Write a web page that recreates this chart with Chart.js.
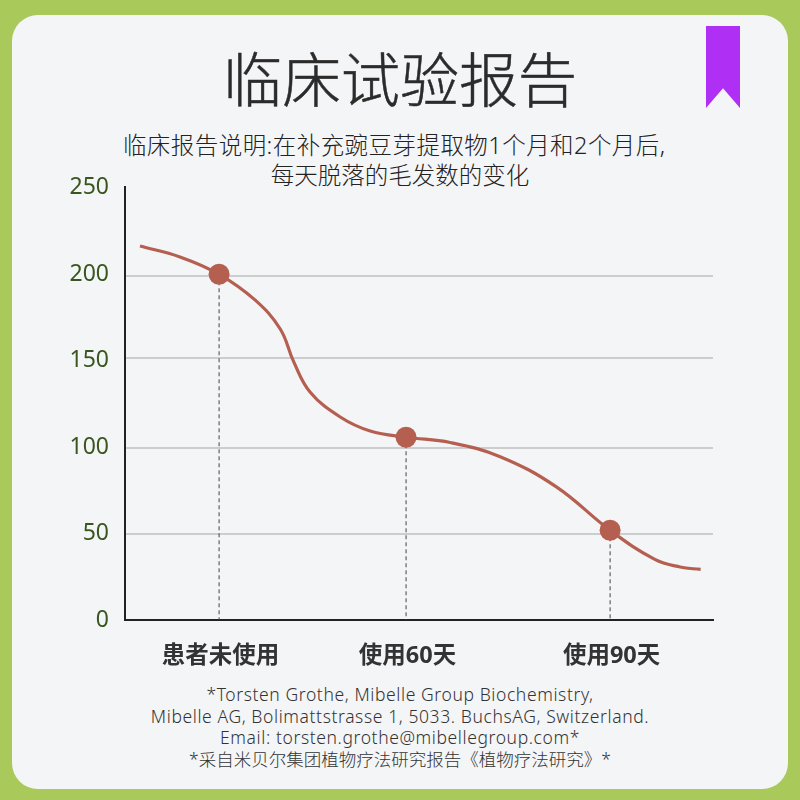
<!DOCTYPE html>
<html lang="zh-CN">
<head>
<meta charset="utf-8">
<title>临床试验报告</title>
<script src="https://cdn.jsdelivr.net/npm/chart.js@4/dist/chart.umd.min.js"></script>
<style>
  html, body { margin: 0; padding: 0; }
  body { width: 800px; height: 800px; background: #a9c95b; position: relative; overflow: hidden;
         font-family: "Noto Sans", "Noto Sans CJK SC", sans-serif; }
  #panel { position: absolute; left: 12px; top: 15px; width: 776px; height: 774px; background: #f4f5f7; border-radius: 26px; }
  #ribbon { position: absolute; left: 706px; top: 26px; width: 34px; height: 82px; background: #b02ff5;
            clip-path: polygon(0 0, 100% 0, 100% 100%, 50% 76%, 0 100%); }
  .text { position: absolute; left: 0; width: 800px; text-align: center; white-space: nowrap; }
  #title { top: 35px; font-size: 59px; line-height: 88px; color: #2b2b2b; font-weight: 300; -webkit-text-stroke: 0.5px #2b2b2b; }
  #subtitle { top: 130px; font-size: 23.5px; line-height: 30px; color: #222; font-weight: 300; }
  #subtitle .wide { letter-spacing: 0.45px; padding-right: 5px; }
  #notes { top: 684px; font-size: 17.5px; line-height: 21.7px; color: #333; font-weight: 300; letter-spacing: 0.6px; }
  #notes .cjk { letter-spacing: 0; }
  #wrap { position: absolute; left: 0; top: 0; width: 800px; height: 800px; }
</style>
</head>
<body>
<div id="panel"></div>
<div id="ribbon"></div>
<div class="text" id="title">临床试验报告</div>
<div class="text" id="subtitle"><span class="wide">临床报告说明:在补充豌豆芽提取物1个月和2个月后,&nbsp;</span><br>每天脱落的毛发数的变化</div>
<div class="text" id="notes">*Torsten Grothe, Mibelle Group Biochemistry,<br>Mibelle AG, Bolimattstrasse 1, 5033. BuchsAG, Switzerland.<br>Email: torsten.grothe@mibellegroup.com*<br><span class="cjk">*采自米贝尔集团植物疗法研究报告《植物疗法研究》*</span></div>
<div id="wrap"><canvas id="chart" width="800" height="800"></canvas></div>

<script>
// x is a position along the axis, 0 to 100
const categories = ['患者未使用', '使用60天', '使用90天']
const categoryX = [16, 47.8, 82.5]
const markerValues = [199.6, 105.5, 51.8]

const curveX = [2.55, 9.35, 16, 22.1, 26.4, 28.7, 31.5, 36.6, 41.7, 47.8, 55.3, 63.8, 73.3, 82.5, 90.1, 94.4, 97.9]
const curveY = [215.9, 209.6, 199.6, 184.8, 168, 149, 131.5, 117.2, 109.1, 105.5, 102.5, 94.3, 77, 51.8, 35, 30.6, 29.2]

const yTicks = [0, 50, 100, 150, 200, 250]
const gridLines = [49.8, 99.5, 151.4, 198.6]

const lineColor = '#b55f50'

const drops = categoryX.map((x, i) => ({
  type: 'line',
  data: [{ x, y: markerValues[i] }, { x, y: 0 }],
  borderColor: '#444',
  borderWidth: 1,
  borderDash: [4, 3],
  pointRadius: 0,
  order: 3,
}))

new Chart(document.getElementById('chart'), {
  type: 'line',
  data: {
    datasets: [
      {
        data: categoryX.map((x, i) => ({ x, y: markerValues[i] })),
        showLine: false,
        pointRadius: 10.5,
        pointBackgroundColor: lineColor,
        pointBorderWidth: 0,
        order: 1,
      },
      {
        data: curveX.map((x, i) => ({ x, y: curveY[i] })),
        borderColor: lineColor,
        borderWidth: 3.2,
        tension: 0.4,
        pointRadius: 0,
        order: 2,
      },
      ...drops,
    ],
  },
  options: {
    responsive: false,
    animation: false,
    events: [],
    layout: { padding: { top: 187, right: 87, bottom: 0, left: 0 } },
    plugins: { legend: { display: false }, tooltip: { enabled: false } },
    scales: {
      x: {
        type: 'linear',
        min: 0,
        max: 100,
        afterBuildTicks: (axis) => { axis.ticks = categoryX.map((value) => ({ value })) },
        afterFit: (axis) => { axis.height = 180 },
        grid: { display: false },
        border: { color: '#222', width: 2 },
        ticks: {
          autoSkip: false,
          maxRotation: 0,
          padding: 14,
          labelOffset: 1.5,
          color: '#333',
          font: { family: '"Noto Sans", "Noto Sans CJK SC"', size: 23.5, weight: 'bold' },
          callback: (value) => categories[categoryX.indexOf(value)],
        },
      },
      y: {
        min: 0,
        max: 250,
        afterBuildTicks: (axis) => { axis.ticks = yTicks.map((value) => ({ value })) },
        afterFit: (axis) => { axis.width = 125 },
        grid: { display: false },
        border: { color: '#222', width: 2 },
        ticks: {
          padding: 8,
          labelOffset: 0.5,
          color: '#39561f',
          font: { family: '"Noto Sans"', size: 23 },
        },
      },
      // carries only the horizontal rules
      rules: {
        position: 'left',
        min: 0,
        max: 250,
        afterBuildTicks: (axis) => { axis.ticks = gridLines.map((value) => ({ value })) },
        afterFit: (axis) => { axis.width = 0 },
        grid: { color: '#cdcdd0', lineWidth: 2, drawTicks: false },
        border: { display: false },
        ticks: { display: false },
      },
    },
  },
})
</script>
</body>
</html>
